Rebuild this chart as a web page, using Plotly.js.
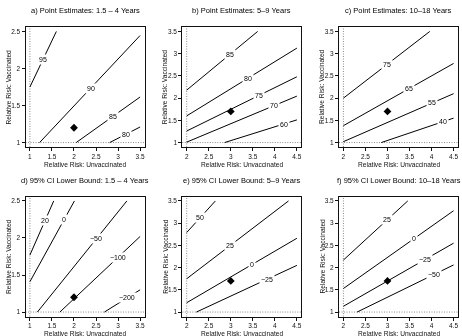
<!DOCTYPE html>
<html><head><meta charset="utf-8">
<script src="https://cdn.plot.ly/plotly-3.0.1.min.js"></script>
<style>html,body{margin:0;padding:0;background:#fff}#chart{width:462px;height:336px;filter:grayscale(100%)}</style>
</head><body><div id="chart"></div>
<script>
// ---- Panel titles ----
const panelTitles = [
  "a) Point Estimates: 1.5 \u2013 4 Years",
  "b) Point Estimates: 5\u20139 Years",
  "c) Point Estimates: 10\u201318 Years",
  "d) 95% CI Lower Bound: 1.5 \u2013 4 Years",
  "e) 95% CI Lower Bound: 5\u20139 Years",
  "f) 95% CI Lower Bound: 10\u201318 Years"
];
const xAxisTitle = "Relative Risk: Unvaccinated";
const yAxisTitle = "Relative Risk: Vaccinated";

// ---- Grid extents (x: unvaccinated RR, y: vaccinated RR) ----
const xLimits = [[1, 3.5], [2, 4.5], [2, 4.5], [1, 3.5], [2, 4.5], [2, 4.5]];
const yLimits = [[1, 2.5], [1, 3.5], [1, 3.5], [1, 2.5], [1, 3.5], [1, 3.5]];
const xTicks = [[1,1.5,2,2.5,3,3.5],[2,2.5,3,3.5,4,4.5],[2,2.5,3,3.5,4,4.5],[1,1.5,2,2.5,3,3.5],[2,2.5,3,3.5,4,4.5],[2,2.5,3,3.5,4,4.5]];
const yTicks = [[1,1.5,2,2.5],[1,1.5,2,2.5,3,3.5],[1,1.5,2,2.5,3,3.5],[1,1.5,2,2.5],[1,1.5,2,2.5,3,3.5],[1,1.5,2,2.5,3,3.5]];

// ---- Observed estimates (diamonds) ----
const estimateX = [2, 3, 3, 2, 3, 3];
const estimateY = [1.2, 1.7, 1.7, 1.2, 1.7, 1.7];

// ---- Contour lines (levels, start/end points, label x) ----
const levelsA = [95, 90, 85, 80];
const startXA = [1, 1.22, 2.05, 2.81];
const startYA = [1.75, 1, 1, 1];
const endXA   = [1.6, 3.5, 3.5, 3.5];
const endYA   = [2.5, 2.445, 1.615, 1.21];
const labelXA = [1.3, 2.38, 2.89, 3.17];

const levelsB = [85, 80, 75, 70, 60];
const startXB = [2, 2, 2, 2, 2.86];
const startYB = [2.18, 1.6, 1.26, 1.01, 1];
const endXB   = [3.61, 4.5, 4.5, 4.5, 4.5];
const endYB   = [3.5, 3.125, 2.48, 2.045, 1.51];
const labelXB = [2.99, 3.38, 3.63, 3.98, 4.2];

const levelsC = [75, 65, 55, 40];
const startXC = [2, 2, 2, 2.86];
const startYC = [2.0, 1.38, 1.02, 1];
const endXC   = [3.96, 4.5, 4.5, 4.5];
const endYC   = [3.5, 2.78, 2.1, 1.55];
const labelXC = [3.0, 3.49, 4.02, 4.27];

const levelsD = [20, 0, -50, -100, -200];
const startXD = [1, 1, 1.17, 1.68, 2.69];
const startYD = [1.77, 1.41, 1, 1, 1];
const endXD   = [1.54, 2.01, 3.2, 3.5, 3.5];
const endYD   = [2.5, 2.5, 2.5, 2.02, 1.3];
const labelXD = [1.34, 1.78, 2.51, 2.99, 3.21];

const levelsE = [50, 25, 0, -25];
const startXE = [2, 2, 2, 2.22];
const startYE = [2.79, 1.75, 1.21, 1];
const endXE   = [2.65, 4.31, 4.5, 4.5];
const endYE   = [3.5, 3.5, 2.66, 2.05];
const labelXE = [2.30, 2.98, 3.49, 3.82];

const levelsF = [25, 0, -25, -50];
const startXF = [2, 2, 2, 2.31];
const startYF = [2.17, 1.53, 1.13, 1];
const endXF   = [3.46, 4.5, 4.5, 4.5];
const endYF   = [3.5, 3.28, 2.55, 2.06];
const labelXF = [3.0, 3.61, 3.84, 4.05];

const panels = [
  {lv: levelsA, sx: startXA, sy: startYA, ex: endXA, ey: endYA, lx: labelXA},
  {lv: levelsB, sx: startXB, sy: startYB, ex: endXB, ey: endYB, lx: labelXB},
  {lv: levelsC, sx: startXC, sy: startYC, ex: endXC, ey: endYC, lx: labelXC},
  {lv: levelsD, sx: startXD, sy: startYD, ex: endXD, ey: endYD, lx: labelXD},
  {lv: levelsE, sx: startXE, sy: startYE, ex: endXE, ey: endYE, lx: labelXE},
  {lv: levelsF, sx: startXF, sy: startYF, ex: endXF, ey: endYF, lx: labelXF}
];

// ---- Layout geometry (pixels) ----
const W = 462, H = 336;
const colLeft = [25.5, 182.3, 339];
const rowTop = [27, 196.5];
const plotW = 119, plotH = 120;
const FONT = "Liberation Sans, Arial, Helvetica, sans-serif";

const traces = [], annotations = [], shapes = [];
const layout = {
  width: W, height: H, margin: {l: 0, r: 0, t: 0, b: 0},
  paper_bgcolor: "#fff", plot_bgcolor: "#fff", showlegend: false,
  font: {family: FONT, size: 7, color: "#000"}
};

function fmt(v) { return v < 0 ? "\u2212" + Math.abs(v) : String(v); }

panels.forEach((p, i) => {
  const col = i % 3, row = Math.floor(i / 3);
  const L = colLeft[col], T = rowTop[row];
  const sfx = i === 0 ? "" : String(i + 1);
  const xr = xLimits[i], yr = yLimits[i];
  const dx = 0.04 * (xr[1] - xr[0]), dy = 0.04 * (yr[1] - yr[0]);
  const axCommon = {
    showgrid: false, zeroline: false, showline: true, mirror: true,
    linecolor: "#111", linewidth: 1, ticks: "outside", ticklen: 3,
    tickwidth: 1, tickcolor: "#111", tickfont: {family: FONT, size: 6.5, color: "#111"},
    fixedrange: true
  };
  layout["xaxis" + sfx] = Object.assign({}, axCommon, {
    domain: [L / W, (L + plotW) / W], anchor: "y" + sfx,
    range: [xr[0] - dx, xr[1] + dx], tickvals: xTicks[i], ticktext: xTicks[i].map(String)
  });
  layout["yaxis" + sfx] = Object.assign({}, axCommon, {
    domain: [1 - (T + plotH) / H, 1 - T / H], anchor: "x" + sfx,
    range: [yr[0] - dy, yr[1] + dy], tickvals: yTicks[i], ticktext: yTicks[i].map(String)
  });
  const xa = "x" + sfx, ya = "y" + sfx;

  // reference dotted lines at the grid minimum
  shapes.push({type: "line", xref: xa, yref: ya + " domain", x0: xr[0], x1: xr[0], y0: 0, y1: 1,
    line: {color: "#8a8a8a", width: 1, dash: "1px,1.5px"}, layer: "below"});
  shapes.push({type: "line", xref: xa + " domain", yref: ya, x0: 0, x1: 1, y0: yr[0], y1: yr[0],
    line: {color: "#8a8a8a", width: 1, dash: "1px,1.5px"}, layer: "below"});

  // contour lines
  p.lv.forEach((lev, k) => {
    traces.push({type: "scatter", mode: "lines", xaxis: xa, yaxis: ya,
      x: [p.sx[k], p.ex[k]], y: [p.sy[k], p.ey[k]],
      line: {color: "#000", width: 1}, hoverinfo: "skip"});
    const t = (p.lx[k] - p.sx[k]) / (p.ex[k] - p.sx[k]);
    const ly = p.sy[k] + t * (p.ey[k] - p.sy[k]);
    annotations.push({xref: xa, yref: ya, x: p.lx[k], y: ly, text: fmt(lev),
      showarrow: false, bgcolor: "#fff", borderpad: 1,
      font: {family: FONT, size: 7, color: "#000"}});
  });

  // estimate point
  traces.push({type: "scatter", mode: "markers", xaxis: xa, yaxis: ya,
    x: [estimateX[i]], y: [estimateY[i]],
    marker: {symbol: "diamond", size: 6, color: "#000"}, hoverinfo: "skip"});

  // titles
  const cx = (L + plotW / 2) / W;
  annotations.push({xref: "paper", yref: "paper", x: cx, y: 1 - (T - 16) / H,
    text: panelTitles[i], showarrow: false, xanchor: "center", yanchor: "middle",
    font: {family: FONT, size: 7.5, color: "#000"}});
  annotations.push({xref: "paper", yref: "paper", x: cx, y: 1 - (T + plotH + 17) / H,
    text: xAxisTitle, showarrow: false, xanchor: "center", yanchor: "middle",
    font: {family: FONT, size: 6.6, color: "#111"}});
  annotations.push({xref: "paper", yref: "paper", x: (L - 17) / W, y: 1 - (T + plotH / 2) / H,
    text: yAxisTitle, textangle: -90, showarrow: false, xanchor: "center", yanchor: "middle",
    font: {family: FONT, size: 6.6, color: "#111"}});
});

layout.annotations = annotations;
layout.shapes = shapes;
Plotly.newPlot("chart", traces, layout, {staticPlot: true, displayModeBar: false});
</script>
</body></html>
